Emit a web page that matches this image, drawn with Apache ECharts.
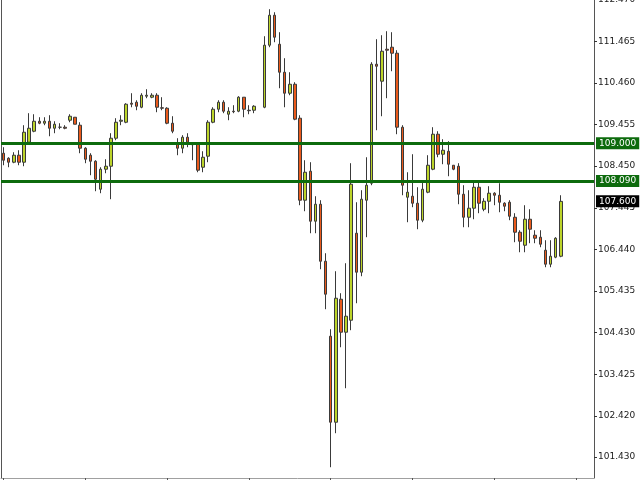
<!DOCTYPE html>
<html><head><meta charset="utf-8">
<script src="https://cdn.jsdelivr.net/npm/echarts@6/dist/echarts.min.js"></script>
<style>html,body{margin:0;padding:0;background:#fff}#c{width:640px;height:480px}</style>
</head><body><div id="c"></div>
<script>
const opens = [
108.762,108.641,108.545,108.714,108.545,109.028,109.293,109.534,109.486,109.534,
109.365,109.390,109.390,109.559,109.631,109.438,108.883,108.714,108.569,107.893,
108.376,108.448,109.124,109.534,109.510,109.969,109.993,109.872,110.138,110.114,
110.162,109.860,109.848,109.486,108.979,108.883,109.148,108.979,108.979,108.424,
108.690,109.510,109.824,109.993,109.703,109.776,109.776,110.114,109.800,109.800,
null,109.872,111.369,112.093,111.393,110.717,110.210,110.427,109.607,107.628,
108.328,107.121,107.531,106.155,104.345,102.269,105.238,104.442,104.731,106.831,
105.890,107.628,108.038,110.910,110.500,111.272,111.321,111.176,109.390,107.700,
107.724,107.555,107.145,107.821,108.376,109.221,108.738,108.810,108.472,108.448,
107.772,107.217,107.435,107.941,107.410,107.603,107.797,107.748,107.555,107.579,
107.217,106.855,106.541,107.169,106.783,106.735,106.421,106.083,106.252,106.276];
const closes = [
108.593,108.545,108.714,108.545,109.269,109.365,109.534,109.486,109.534,109.365,
109.462,109.390,109.365,109.655,109.462,108.883,108.617,108.569,108.134,108.376,
108.448,109.124,109.510,109.559,109.945,109.945,109.896,110.162,110.162,110.162,
109.872,109.848,109.486,109.293,108.883,109.148,109.028,108.967,108.352,108.665,
109.510,109.824,109.993,109.776,109.776,109.764,110.114,109.824,109.788,109.896,
null,111.369,112.093,111.562,110.717,110.210,110.427,109.583,107.628,108.303,
107.121,107.531,106.155,105.359,102.269,105.262,104.442,104.828,108.014,105.890,
107.652,107.990,110.910,110.862,111.224,111.248,111.176,109.390,107.990,107.821,
107.555,107.145,107.893,108.472,109.221,108.738,108.834,108.497,108.376,107.772,
107.217,107.435,107.941,107.555,107.603,107.797,107.748,107.579,107.483,107.241,
106.855,106.638,107.169,106.928,106.710,106.566,106.083,106.276,106.710,107.600];
const lows = [
108.472,108.424,108.521,108.472,108.448,109.003,109.269,109.462,109.438,109.172,
109.245,109.341,109.341,109.510,109.462,108.762,108.521,108.231,107.845,107.797,
108.279,107.652,109.076,109.438,109.486,109.872,109.800,109.848,110.090,110.090,
109.752,109.800,109.462,109.245,108.714,108.762,108.907,108.593,108.303,108.303,
108.545,109.486,109.752,109.728,109.559,109.728,109.752,109.631,109.703,109.728,
null,109.848,111.321,111.441,110.331,109.872,110.162,109.559,107.507,107.362,
106.831,106.831,105.962,104.997,101.183,102.004,104.079,103.090,104.490,105.141,
105.793,106.735,107.990,109.317,109.655,110.090,110.741,109.221,107.748,107.097,
107.459,106.928,107.097,107.797,108.352,108.665,108.497,108.207,108.352,107.531,
106.976,106.976,107.169,107.314,107.362,107.314,107.507,107.338,107.362,107.145,
106.614,106.372,106.372,106.590,106.590,106.493,106.010,106.010,106.228,106.252];
const highs = [
108.907,108.665,108.786,108.834,109.438,109.728,109.703,109.631,109.631,109.679,
109.534,109.486,109.438,109.703,109.631,109.510,108.907,108.762,108.593,108.424,
108.617,109.245,109.607,109.679,109.969,110.210,110.041,110.210,110.307,110.210,
110.210,110.114,109.872,109.655,109.124,109.197,109.245,109.003,109.003,108.810,
109.559,109.872,110.041,110.041,109.872,109.921,110.138,110.114,109.921,109.921,
null,111.586,112.238,112.165,111.683,111.055,110.717,110.476,109.679,108.593,
108.545,107.724,107.628,106.348,104.514,105.914,105.383,106.107,108.521,107.579,
107.869,108.665,110.959,111.514,111.610,111.707,111.683,111.248,109.438,108.303,
108.738,107.941,108.110,108.714,109.390,109.293,109.100,109.052,108.472,108.521,
107.990,107.869,108.062,108.062,107.676,107.966,107.821,108.038,107.579,107.628,
107.314,106.903,107.507,107.410,106.903,106.903,106.662,106.662,106.735,107.748];
const yTicks = [101.430,102.420,103.425,104.430,105.435,106.440,107.445,108.450,109.455,110.460,111.465,112.470];
const levels = [109.000, 108.090];
const lastPrice = 107.600;
const totalSlots = 116;
const categories = Array.from({length: totalSlots}, (_, i) => String(i + 1));

const candleData = opens.map((o, i) => o == null ? '-' : [o, closes[i], lows[i], highs[i]]);
const FONT = '"DejaVu Sans", sans-serif';
const chart = echarts.init(document.getElementById('c'));
const levelLabel = (bg) => ({
  show: true, position: 'end', distance: 2, color: '#ffffff', backgroundColor: bg,
  padding: [2, 3, 1, 3], fontSize: 9, fontFamily: FONT, formatter: p => p.value.toFixed(3)
});
chart.setOption({
  animation: false,
  backgroundColor: '#ffffff',
  grid: {left: 1, right: 46, top: -0.4, bottom: 2, outerBoundsMode: 'none', containLabel: false},
  xAxis: {
    type: 'category', data: categories, boundaryGap: true,
    axisLine: {show: true, lineStyle: {color: '#a0a0a0', width: 1}},
    axisTick: {show: true, alignWithLabel: true, interval: 15, length: 3, lineStyle: {color: '#555'}},
    axisLabel: {show: false}, splitLine: {show: false}
  },
  yAxis: [{
    type: 'value', position: 'right', min: 100.923, max: 112.47, scale: true,
    axisLine: {show: true, lineStyle: {color: '#555', width: 1}},
    axisTick: {show: true, length: 3, customValues: yTicks, lineStyle: {color: '#333'}},
    axisLabel: {show: true, customValues: yTicks, margin: 4, color: '#1a1a1a', fontSize: 9, fontFamily: FONT,
      verticalAlign: 'middle', verticalAlignMaxLabel: 'middle', formatter: v => v.toFixed(3)},
    splitLine: {show: false}
  }, {
    type: 'value', position: 'left', min: 100.923, max: 112.47,
    axisLine: {show: true, lineStyle: {color: '#555', width: 1}},
    axisTick: {show: false}, axisLabel: {show: false}, splitLine: {show: false}
  }],
  series: [{
    type: 'candlestick', data: candleData, barWidth: 3,
    itemStyle: {color: '#bcd42a', color0: '#ea5a1c', borderColor: '#3a3a3a', borderColor0: '#3a3a3a', borderWidth: 1},
    markLine: {
      symbol: ['none', 'none'], silent: true, animation: false,
      data: [
        {yAxis: levels[0], lineStyle: {color: '#0d6b0d', width: 3, type: 'solid'}, label: levelLabel('#0d6b0d')},
        {yAxis: levels[1], lineStyle: {color: '#0d6b0d', width: 3, type: 'solid'}, label: levelLabel('#0d6b0d')},
        {yAxis: lastPrice, lineStyle: {color: 'rgba(0,0,0,0)', width: 1}, label: levelLabel('#000000')}
      ]
    }
  }]
});
</script></body></html>
